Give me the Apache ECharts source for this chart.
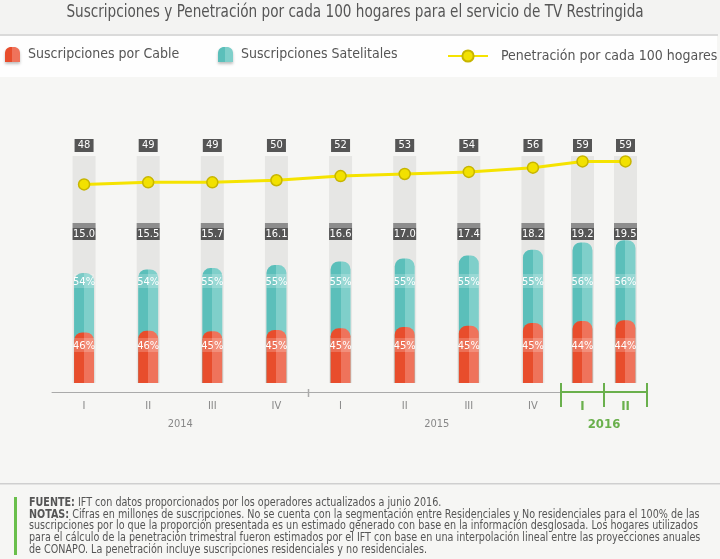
<!DOCTYPE html>
<html>
<head>
<meta charset="utf-8">
<script src="https://cdn.jsdelivr.net/npm/echarts@6/dist/echarts.min.js"></script>
<style>
  html, body { margin: 0; padding: 0; background: #f6f6f4; }
  #main { width: 720px; height: 559px; }
</style>
</head>
<body>
<div id="main"></div>
<script>
// datos
var quarters = ["I", "II", "III", "IV", "I", "II", "III", "IV"];
var years = ["2014", "2015"];
var quarters16 = ["I", "II"];
var years16 = ["2016"];
var totals = [15.0, 15.5, 15.7, 16.1, 16.6, 17.0, 17.4, 18.2, 19.2, 19.5]; // millones
var cablePct = [46, 46, 45, 45, 45, 45, 45, 45, 44, 44];
var satPct = [54, 54, 55, 55, 55, 55, 55, 55, 56, 56];
var penetration = [48, 49, 49, 50, 52, 53, 54, 56, 59, 59];

var FONT = "'Liberation Sans Narrow','DejaVu Sans Condensed',sans-serif";
var GREEN = "#6ab04c";
var AXIS_OFFSET = 9;

function twoTone(dark, light) {
  return {
    type: "linear", x: 0, y: 0, x2: 1, y2: 0,
    colorStops: [
      { offset: 0, color: dark }, { offset: 0.5, color: dark },
      { offset: 0.5, color: light }, { offset: 1, color: light }
    ]
  };
}
var redColor = twoTone("#e84d2c", "#ef735b");
var tealColor = twoTone("#5bbfba", "#7fcfca");
var boxColor = {
  type: "linear", x: 0, y: 0, x2: 0, y2: 1,
  colorStops: [
    { offset: 0, color: "#8d8d8d" }, { offset: 0.3, color: "#8d8d8d" },
    { offset: 0.3, color: "#555" }, { offset: 1, color: "#555" }
  ]
};

// series de una rejilla (0: 2014-2015, 1: 2016)
function build(g, from, to) {
  var xq = g === 0 ? 0 : 3, xo = g === 0 ? 1 : 4;
  var yb = g === 0 ? 0 : 2, yl = g === 0 ? 1 : 3;
  var tot = totals.slice(from, to);
  var cable = [];
  for (var i = from; i < to; i++) {
    cable.push(+(totals[i] * cablePct[i] / 100).toFixed(2));
  }
  return [
    {
      type: "bar", name: "fondo", xAxisIndex: xo, yAxisIndex: yb,
      data: tot, barWidth: 23, barGap: "-100%", z: 2,
      itemStyle: { color: "rgba(0,0,0,0)" },
      showBackground: true,
      backgroundStyle: { color: "#e6e6e4" },
      label: {
        show: true, position: "insideBottom", distance: 231,
        formatter: function(p) { return penetration[from + p.dataIndex]; },
        color: "#fff", fontFamily: FONT, fontSize: 11,
        backgroundColor: "#555", width: 19, height: 13, lineHeight: 13, align: "center"
      }
    },
    {
      type: "bar", name: "Suscripciones Satelitales", xAxisIndex: xq, yAxisIndex: yb,
      data: tot, barWidth: 20, barGap: "-100%", z: 3,
      itemStyle: { color: tealColor, borderRadius: [8, 8, 0, 0] },
      label: {
        show: true, position: "insideBottom", distance: 95,
        formatter: function(p) { return satPct[from + p.dataIndex] + "%"; },
        color: "#fff", fontFamily: FONT, fontSize: 11,
        backgroundColor: "rgba(255,255,255,0.2)", width: 20, padding: [3, 0, 0, 0]
      }
    },
    {
      type: "bar", name: "Suscripciones por Cable", xAxisIndex: xq, yAxisIndex: yb,
      data: cable, barWidth: 20, barGap: "-100%", z: 3,
      itemStyle: { color: redColor, borderRadius: [8, 8, 0, 0] },
      label: {
        show: true, position: "insideBottom", distance: 31,
        formatter: function(p) { return cablePct[from + p.dataIndex] + "%"; },
        color: "#fff", fontFamily: FONT, fontSize: 11,
        backgroundColor: "rgba(255,255,255,0.2)", width: 20, padding: [3, 0, 0, 0]
      }
    },
    {
      type: "bar", name: "total", xAxisIndex: xo, yAxisIndex: yb,
      data: tot, barWidth: 23, barGap: "-100%", z: 6,
      itemStyle: { color: "rgba(0,0,0,0)" },
      label: {
        show: true, position: "insideBottom", distance: 143,
        formatter: function(p) { return p.value.toFixed(1); },
        color: "#fff", fontFamily: FONT, fontSize: 11,
        backgroundColor: boxColor, width: 23, height: 12, lineHeight: 12,
        padding: [5, 0, 0, 0], align: "center"
      }
    },
    {
      type: "line", name: "Penetración por cada 100 hogares", xAxisIndex: xq, yAxisIndex: yl,
      data: penetration.slice(from, to), z: 8,
      symbol: "circle", symbolSize: 11,
      lineStyle: { color: "#f5e300", width: 3 },
      itemStyle: { color: "#f2e100", borderColor: "#c7b500", borderWidth: 1.5 }
    }
  ];
}

var series = build(0, 0, 8).concat(build(1, 8, 10));

var footer =
  "{b|FUENTE:} IFT con datos proporcionados por los operadores actualizados a junio 2016.\n" +
  "{b|NOTAS:} Cifras en millones de suscripciones. No se cuenta con la segmentación entre Residenciales y No residenciales para el 100% de las\n" +
  "suscripciones por lo que la proporción presentada es un estimado generado con base en la información desglosada. Los hogares utilizados\n" +
  "para el cálculo de la penetración trimestral fueron estimados por el IFT con base en una interpolación lineal entre las proyecciones anuales\n" +
  "de CONAPO. La penetración incluye suscripciones residenciales y no residenciales.";

var deco = [
  { type: "rect", shape: { x: 0, y: 0, width: 720, height: 34 }, style: { fill: "#f3f3f2" }, silent: true },
  { type: "rect", shape: { x: 0, y: 34, width: 718, height: 2 }, style: { fill: "#dadada" }, silent: true },
  { type: "rect", shape: { x: 0, y: 36, width: 717, height: 41 }, style: { fill: "#fefefe" }, silent: true },
  { type: "rect", shape: { x: 0, y: 483, width: 720, height: 1.5 }, style: { fill: "#cfcfcf" }, silent: true },
  { type: "rect", shape: { x: 14, y: 497, width: 3, height: 58 }, style: { fill: "#6abf4b" }, silent: true },
  {
    type: "text", x: 355, y: 4, scaleX: 0.89, silent: true,
    style: {
      text: "Suscripciones y Penetración por cada 100 hogares para el servicio de TV Restringida",
      fill: "#555", fontFamily: FONT, fontSize: 17, textAlign: "center"
    }
  },
  {
    type: "text", x: 29, y: 497, scaleX: 0.89, silent: true,
    style: {
      text: footer, fill: "#555", fontFamily: FONT, fontSize: 12, lineHeight: 11.7,
      rich: { b: { fontWeight: "bold", fontFamily: FONT, fontSize: 12, lineHeight: 11.7, fill: "#555" } }
    }
  }
];

var legendBase = {
  top: 42, itemWidth: 15, itemHeight: 18,
  icon: "path://M0,12 L0,5 C0,2 2,0 5,0 L7,0 C10,0 12,2 12,5 L12,12 Z",
  itemStyle: { shadowBlur: 3, shadowOffsetY: 2, shadowColor: "rgba(0,0,0,0.25)" },
  textStyle: { color: "#555", fontSize: 14, fontFamily: FONT, padding: [0, 0, 0, 3] }
};

var option = {
  animation: false,
  backgroundColor: "#f6f6f4",
  legend: [
    Object.assign({}, legendBase, { left: 0, data: ["Suscripciones por Cable"] }),
    Object.assign({}, legendBase, { left: 213, data: ["Suscripciones Satelitales"] }),
    {
      top: 44, left: 442, itemWidth: 40, itemHeight: 14,
      data: ["Penetración por cada 100 hogares"],
      textStyle: { color: "#555", fontSize: 14, fontFamily: FONT, padding: [0, 0, 0, 8] }
    }
  ],
  grid: [
    { left: 52, top: 156, width: 513, height: 227 },
    { left: 561, top: 156, width: 86, height: 227 }
  ],
  xAxis: [
    {
      gridIndex: 0, type: "category", data: quarters, position: "bottom", offset: AXIS_OFFSET,
      axisLine: { onZero: false, lineStyle: { color: "#aaa", width: 1 } },
      axisTick: { show: false },
      axisLabel: { color: "#888", fontSize: 11, margin: 9, fontFamily: FONT }
    },
    { gridIndex: 0, type: "category", data: quarters, show: false },
    {
      gridIndex: 0, type: "category", data: years, position: "bottom", offset: AXIS_OFFSET,
      axisLine: { show: false, onZero: false }, axisTick: { show: false },
      axisLabel: { color: "#888", fontSize: 11, margin: 27, fontFamily: FONT }
    },
    {
      gridIndex: 1, type: "category", data: quarters16, position: "bottom", offset: AXIS_OFFSET,
      axisLine: { onZero: false, lineStyle: { color: GREEN, width: 2 } },
      axisTick: { show: true, length: 15, lineStyle: { color: GREEN, width: 2 } },
      axisLabel: { color: GREEN, fontSize: 13, fontWeight: "bold", margin: 8, fontFamily: FONT }
    },
    { gridIndex: 1, type: "category", data: quarters16, show: false },
    {
      gridIndex: 1, type: "category", data: years16, position: "bottom", offset: AXIS_OFFSET,
      axisLine: { show: false, onZero: false }, axisTick: { show: false },
      axisLabel: { color: GREEN, fontSize: 13, fontWeight: "bold", margin: 26, fontFamily: FONT }
    },
    {
      gridIndex: 1, type: "category", data: quarters16, position: "bottom", offset: AXIS_OFFSET,
      axisLine: { show: false, onZero: false },
      axisTick: { show: true, inside: true, length: 9, lineStyle: { color: GREEN, width: 2 } },
      axisLabel: { show: false }
    }
  ],
  yAxis: [
    { gridIndex: 0, type: "value", min: 0, max: 31, show: false },
    { gridIndex: 0, type: "value", min: -47, max: 61.6, show: false },
    { gridIndex: 1, type: "value", min: 0, max: 31, show: false },
    { gridIndex: 1, type: "value", min: -47, max: 61.6, show: false }
  ],
  graphic: deco,
  series: series
};

var chart = echarts.init(document.getElementById("main"));
chart.setOption(option);

// tramo de la línea entre IV-2015 y I-2016 (rejillas distintas)
var p1 = chart.convertToPixel({ seriesIndex: 4 }, [7, penetration[7]]);
var p2 = chart.convertToPixel({ seriesIndex: 9 }, [0, penetration[8]]);
deco.push({
  type: "polyline", z: 5, silent: true,
  shape: { points: [p1, p2] },
  style: { stroke: "#f5e300", lineWidth: 3 }
});
// marca entre 2014 y 2015 sobre el eje
var q3 = chart.convertToPixel({ seriesIndex: 1 }, [3, 0]);
var q4 = chart.convertToPixel({ seriesIndex: 1 }, [4, 0]);
var tx = (q3[0] + q4[0]) / 2, ty = q3[1] + AXIS_OFFSET;
deco.push({
  type: "line", z: 5, silent: true,
  shape: { x1: tx, y1: ty - 3, x2: tx, y2: ty + 5 },
  style: { stroke: "#aaa", lineWidth: 1.5 }
});
chart.setOption({ graphic: deco });
</script>
</body>
</html>
